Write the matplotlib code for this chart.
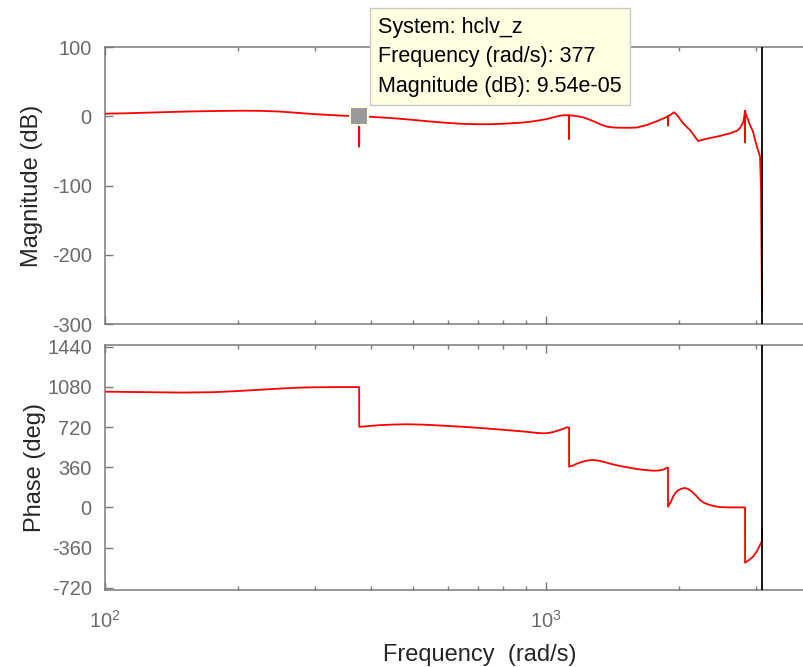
import numpy as np
import matplotlib
matplotlib.use("Agg")
import matplotlib.pyplot as plt
from matplotlib.ticker import LogLocator, FixedLocator, NullFormatter

plt.rcParams["font.family"] = ["Liberation Sans", "DejaVu Sans"]
plt.rcParams["mathtext.fontset"] = "custom"
plt.rcParams["mathtext.rm"] = "Liberation Sans"
plt.rcParams["mathtext.it"] = "Liberation Sans:italic"
plt.rcParams["axes.unicode_minus"] = False

# ---- frequency response of hclv_z (rad/s, dB, deg) ----
mag_freq = [100, 115, 126.5, 145, 164, 185, 205, 225, 249, 272, 296, 320, 341, 360,
            376.6, 377.0, 377.4,
            400, 430, 459, 500, 545, 595, 648, 700, 746, 800, 842, 880, 920, 960,
            1005, 1040, 1076, 1095, 1110, 1120,
            1127.5, 1128, 1128.5,
            1135, 1150, 1164, 1185, 1213, 1250, 1291, 1330, 1375, 1420, 1472, 1540,
            1608, 1660, 1694, 1748, 1790, 1830, 1860, 1882,
            1890.5, 1891, 1891.5,
            1910, 1935, 1951, 1970, 1992, 2045, 2121, 2212, 2280, 2354, 2480, 2614,
            2711, 2754, 2797, 2812,
            2826.5, 2827, 2827.5,
            2842, 2871, 2901, 2947, 2978, 3025, 3057, 3073, 3089]
mag_db = [3.7, 4.5, 5.3, 6.4, 7.2, 7.7, 8.0, 7.8, 6.8, 5.0, 3.2, 2.0, 1.0, 0.4,
          0.0, -44, 0.0,
          -0.8, -2.0, -3.2, -5.3, -7.5, -9.5, -11.0, -11.5, -11.5, -10.8, -10.0, -9.2,
          -8.0, -6.2,
          -4.0, -1.5, 0.8, 1.4, 1.6, 1.4,
          1.3, -33, 1.2,
          1.2, 0.9, 0.5, -0.3, -1.5, -4.5, -8.0, -11.8, -15.0, -16.2, -16.6, -16.7,
          -16.3, -14.0, -12.6, -9.3, -6.8, -4.2, -2.2, -0.8,
          0.0, -13.6, 0.3,
          1.5, 4.0, 5.7, 3.5, 0.0, -10.0, -20.0, -35.7, -33.5, -31.5, -28.5, -24.6,
          -21.0, -17.0, -9.0, -3.0,
          8.0, -38, 8.0,
          2.0, -5.0, -12.6, -22.0, -34.0, -49.0, -58.0, -106.0, -280.0]

phase_freq = [100, 120, 150, 175, 195, 220, 253, 275, 296, 340,
              377.0, 377.1,
              400, 420, 450, 484, 530, 580, 648, 720, 790, 842, 900, 950, 984, 1010,
              1040, 1076, 1100, 1116,
              1128, 1128.1,
              1150, 1180, 1213, 1240, 1272, 1310, 1361, 1410, 1472, 1550, 1620, 1700,
              1748, 1800, 1850, 1882,
              1891, 1891.1,
              1920, 1941, 1965, 1992, 2030, 2067, 2100, 2144, 2190, 2235, 2280, 2318,
              2400, 2480, 2600, 2797,
              2827, 2827.1,
              2880, 2947, 3000, 3057, 3089, 3089.1]
phase_deg = [1037, 1033, 1029, 1032, 1040, 1052, 1066, 1073, 1076, 1078,
             1078, 722,
             730, 737, 742, 745, 741, 733, 722, 710, 697, 688, 678, 668, 664, 666,
             676, 694, 708, 718,
             716, 365,
             375, 395, 410, 420, 425, 420, 405, 388, 371, 355, 342, 333,
             329, 330, 340, 356,
             356, 7,
             50, 96, 130, 152, 168, 174, 165, 141, 105, 66, 42, 30,
             12, 3, 0, 0,
             0, -495,
             -475, -442, -400, -337, -300, -185]

w_nyquist = 3092
tip_freq = 377
tip_mag = 9.54e-05

mag_ticks = [100, 0, -100, -200, -300]
phase_ticks = [1440, 1080, 720, 360, 0, -360, -720]

# ---- figure ----
W, H = 804, 667
fig = plt.figure(figsize=(W / 100, H / 100), dpi=100)

axis_gray = "#7a7a7a"
label_gray = "#6a6a6a"
text_dark = "#262626"
x_lo, x_hi = 100, 10 ** 3.7

def px_axes(x0, y_top, y_bot, x_right):
    return fig.add_axes([x0 / W, 1 - y_bot / H, (x_right - x0) / W, (y_bot - y_top) / H])

x_right = 105 + 1.7 * 441
ax_mag = px_axes(105, 47, 324, x_right)
ax_ph = px_axes(105, 345, 590, x_right)

for ax in (ax_mag, ax_ph):
    ax.set_xscale("log")
    ax.set_xlim(x_lo, x_hi)
    ax.xaxis.set_major_locator(LogLocator(base=10, numticks=10))
    ax.xaxis.set_minor_locator(LogLocator(base=10, subs=np.arange(2, 10), numticks=10))
    for s in ("left", "bottom", "top"):
        ax.spines[s].set_color(axis_gray)
        ax.spines[s].set_linewidth(1.1)
    ax.spines["right"].set_visible(False)
    ax.tick_params(which="both", direction="in", top=True, right=False,
                   color=axis_gray, labelcolor=label_gray, labelsize=14.4, width=1.0)
    ax.tick_params(which="major", length=5.5)
    ax.tick_params(which="minor", length=3)
    ax.tick_params(axis="y", which="major", pad=9.5)
    ax.set_facecolor("white")

# magnitude
ax_mag.plot(mag_freq, mag_db, color="red", lw=1.3, zorder=3)
ax_mag.set_ylim(-300, 100)
ax_mag.yaxis.set_major_locator(FixedLocator(mag_ticks))
ax_mag.xaxis.set_major_formatter(NullFormatter())
ax_mag.set_ylabel("Magnitude (dB)", fontsize=17, color=text_dark, labelpad=6)

# phase
ax_ph.plot(phase_freq, phase_deg, color="red", lw=1.3, zorder=3)
ax_ph.set_ylim(-740, 1455)
ax_ph.yaxis.set_major_locator(FixedLocator(phase_ticks))
ax_ph.set_ylabel("Phase (deg)", fontsize=17, color=text_dark, labelpad=1)
ax_ph.set_xlabel("Frequency  (rad/s)", fontsize=17, color=text_dark, labelpad=9)
ax_ph.tick_params(axis="x", which="major", pad=14)

# Nyquist frequency marker
for ax in (ax_mag, ax_ph):
    ax.axvline(w_nyquist, color="black", lw=1.3, zorder=4)

# data tip
ax_mag.plot([tip_freq], [tip_mag], "s", ms=12.5, mfc="#999999", mec="#FFFFE1",
            mew=1.5, clip_on=False, zorder=6)
ax_mag.annotate("System: hclv_z\nFrequency (rad/s): 377\nMagnitude (dB): 9.54e-05",
                xy=(tip_freq, tip_mag), xytext=(19, 19), textcoords="offset pixels",
                ha="left", va="bottom", fontsize=15.5, linespacing=1.55, color="black",
                bbox=dict(boxstyle="square,pad=0.38", fc="#FFFFE1", ec="#C8C8C8", lw=1.0),
                annotation_clip=False, zorder=10)

fig.savefig("out.png", dpi=100)
